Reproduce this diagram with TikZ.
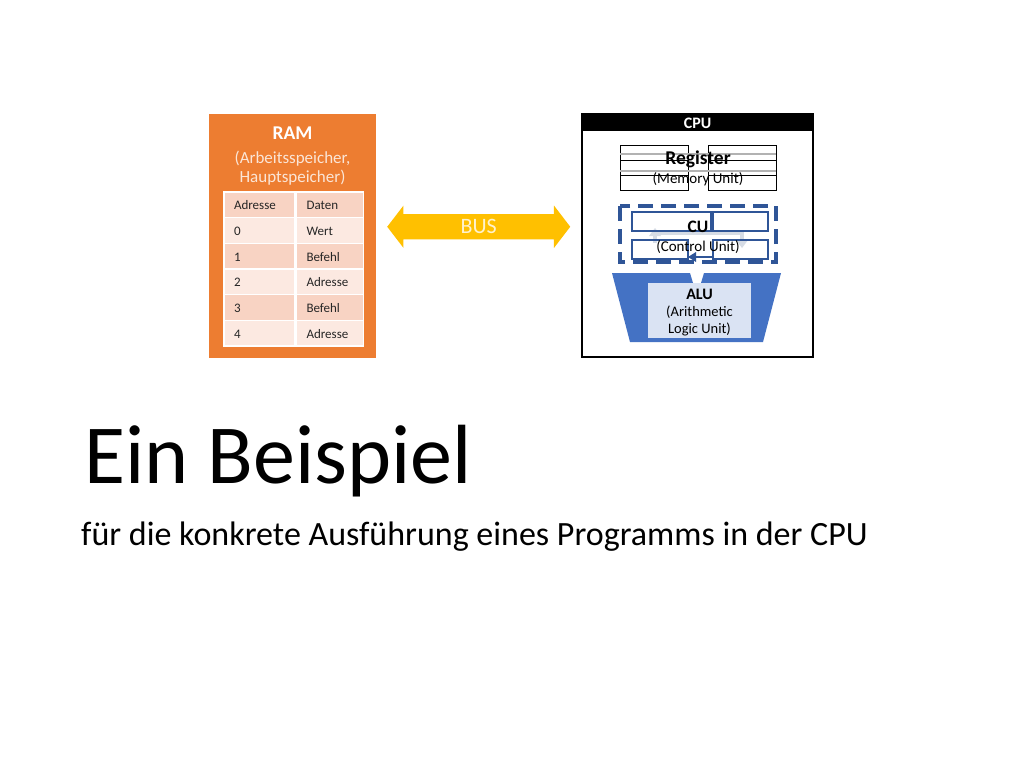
\documentclass[tikz,border=0pt]{standalone}
\usepackage{fontspec}
\setmainfont{Carlito}
\usetikzlibrary{positioning,calc,shapes.arrows}
\definecolor{ramorange}{HTML}{ED7D31}
\definecolor{ramtext}{HTML}{FBE5D6}
\definecolor{celldark}{HTML}{F8D3C3}
\definecolor{celllight}{HTML}{FCE9E1}
\definecolor{busyellow}{HTML}{FFC000}
\definecolor{bustext}{HTML}{FFF2CC}
\definecolor{cublue}{HTML}{2F5597}
\definecolor{alublue}{HTML}{4472C4}
\definecolor{alulight}{HTML}{DAE3F3}
\definecolor{cuarrow}{HTML}{D6DCE5}
\pgfmathsetmacro{\rowh}{25.67}
\newcommand{\fsz}[1]{\fontsize{#1}{#1}\selectfont}
\tikzset{
  cell/.style={draw=white, line width=1.5pt, minimum height=\rowh pt,
    inner xsep=10pt, align=left, text height=11pt, text depth=1pt,
    font=\fontsize{13}{14}\selectfont, text=black!85},
  bus_arrow/.style={double arrow, fill=busyellow, minimum height=183pt,
    inner ysep=6pt, text height=13pt, text depth=0pt,
    double arrow head extend=8.5pt, double arrow tip angle=105,
    text=bustext, font=\fontsize{22}{24}\selectfont},
  reg_box/.style={draw=black, line width=1pt},
  cu_box/.style={draw=cublue, line width=2.5pt},
}

\begin{document}
\begin{tikzpicture}[x=1pt, y=-1pt]
    \useasboundingbox (0,0) rectangle (1024,768);
    \fill[white] (0,0) rectangle (1024,768);
    % RAM
    \node[fill=ramorange, minimum width=167pt, minimum height=244pt] (ram) at (292.5,236) {};
    \node[anchor=base, text=white, font=\bfseries\fsz{19.5}] (ram_title) at (292.5,139) {RAM};
    \node[anchor=base, text=ramtext, align=center, font=\fontsize{17}{19}\selectfont]
        (ram_sub) at (292.5,182) {(Arbeitsspeicher,\\Hauptspeicher)};
    % table
    \foreach \lab/\val [count=\i from 0] in
        {Adresse/Daten, 0/Wert, 1/Befehl, 2/Adresse, 3/Befehl, 4/Adresse} {
        \ifodd\i \def\cellc{celllight}\else \def\cellc{celldark}\fi
        \node[cell, fill=\cellc, text width=51pt] (adr_\i) at (259.5, {192+\rowh*(\i+0.5)}) {\lab};
        \node[cell, fill=\cellc, text width=47pt, right=0pt of adr_\i] (dat_\i) {\val};
    }
    % CPU
    \node[draw=black, line width=1.5pt, minimum width=231pt, minimum height=243pt] (cpu) at (697.5,235.5) {};
    \node[fill=black, anchor=north, minimum width=231pt, minimum height=18pt, inner sep=0pt,
        text height=13pt, text depth=0pt, text=white, font=\bfseries\fsz{16}] (cpu_head) at (cpu.north) {CPU};
    % register
    \foreach \y in {145,160,175} {
        \draw[reg_box] (620,\y) rectangle (688,\y+15);
        \draw[reg_box] (708,\y) rectangle (776,\y+15);
    }
    \draw[black!30, line width=1.5pt] (620,154) -- (776,154);
    \draw[black!30, line width=1.5pt] (620,171) -- (776,171);
    \node[anchor=base, font=\bfseries\fsz{19.5}] (reg) at (698,164) {Register};
    \node[anchor=base, font=\fsz{15}] (reg_sub) at (698,183) {(Memory Unit)};
    % control unit
    \draw[cublue, line width=3.5pt, dash pattern=on 15pt off 8pt] (620,206) rectangle (776,262);
    \draw[cuarrow, line width=4pt] (655,243) -- (655,233) -- (742,233) -- (742,243);
    \fill[cuarrow] (649,236) -- (655,228) -- (661,236) -- cycle;
    \fill[cuarrow] (736,240) -- (742,248) -- (748,240) -- cycle;
    \draw[cu_box] (632,212) rectangle (711,231);
    \draw[cu_box] (713,212) rectangle (768,231);
    \draw[cu_box] (632,240) rectangle (688,259);
    \draw[cu_box] (713,240) rectangle (768,259);
    \draw[cu_box] (713,257) -- (694,257);
    \fill[cublue] (696,252) -- (688,257) -- (696,262) -- cycle;
    \node[anchor=base, font=\bfseries\fsz{17.5}] (cu) at (698,232) {CU};
    \node[anchor=base, font=\fsz{15}] (cu_sub) at (698,251) {(Control Unit)};
    % ALU
    \fill[alublue] (612,273) -- (690,273) -- (693,283) -- (701,283) -- (704,273) -- (781,273)
        -- (763,342) -- (630,342) -- cycle;
    \fill[alulight] (648,283) rectangle (751,338);
    \node[anchor=base, font=\bfseries\fsz{16}] (alu) at (699.5,299) {ALU};
    \node[anchor=base, align=center, font=\fontsize{14.5}{17}\selectfont] (alu_sub) at (699.5,333)
        {(Arithmetic\\Logic Unit)};
    % bus between RAM and CPU
    \node[bus_arrow] (bus) at ($(ram.east)!0.5!(cpu.west)+(0,-9)$) {BUS};
    % headings
    \node[anchor=base west, inner sep=0pt, font=\fontsize{84}{90}\selectfont] (title) at (84,483) {Ein Beispiel};
    \node[anchor=base west, inner sep=0pt, font=\fontsize{34}{40}\selectfont] (subtitle) at (81,545)
        {für die konkrete Ausführung eines Programms in der CPU};
\end{tikzpicture}
\end{document}
